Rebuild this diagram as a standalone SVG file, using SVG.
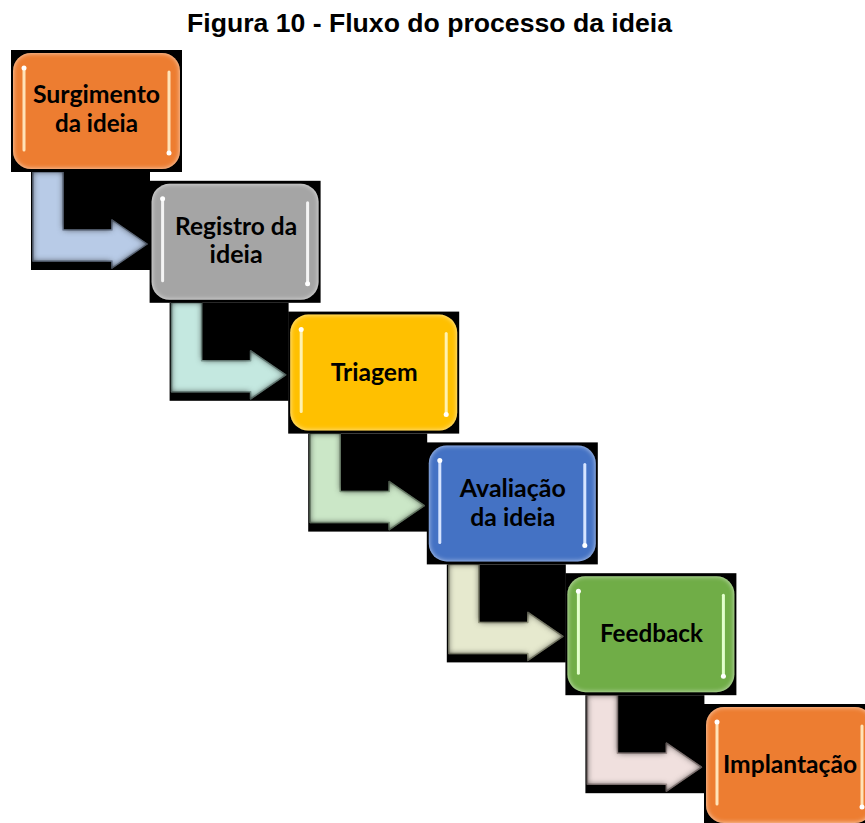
<svg xmlns="http://www.w3.org/2000/svg" width="865" height="823" viewBox="0 0 865 823">
<defs>
<style>
.bg{fill:#000}
.title{font-family:"Liberation Sans",Arial,sans-serif;font-weight:bold;font-size:26.5px;fill:#000}
.lbl{font-family:Lato,"Open Sans",sans-serif;font-weight:bold;font-size:24.5px;fill:#000;text-anchor:middle}
.hl{stroke-width:3;stroke-linecap:round;fill:none}
.arr{stroke-width:1.5;stroke-linejoin:round}
</style>
<filter id="bev" x="-10%" y="-10%" width="120%" height="120%" color-interpolation-filters="sRGB">
<feGaussianBlur in="SourceAlpha" stdDeviation="3" result="b"/>
<feComposite in="SourceAlpha" in2="b" operator="out" result="edge"/>
<feFlood flood-color="#1a1a1a" flood-opacity="0.8" result="fl"/>
<feComposite in="fl" in2="edge" operator="in" result="shade"/>
<feMerge><feMergeNode in="SourceGraphic"/><feMergeNode in="shade"/></feMerge>
</filter>
<filter id="glow" x="-10%" y="-10%" width="120%" height="120%" color-interpolation-filters="sRGB">
<feGaussianBlur in="SourceAlpha" stdDeviation="2.5" result="b"/>
<feComposite in="SourceAlpha" in2="b" operator="out" result="edge"/>
<feFlood flood-color="#ffffff" flood-opacity="0.7" result="fl"/>
<feComposite in="fl" in2="edge" operator="in" result="shade"/>
<feMerge><feMergeNode in="SourceGraphic"/><feMergeNode in="shade"/></feMerge>
</filter>
<filter id="soft" x="-50%" y="-10%" width="200%" height="120%">
<feGaussianBlur stdDeviation="0.6"/>
</filter>
</defs>

<text class="title" x="429.5" y="32" text-anchor="middle" textLength="485" lengthAdjust="spacingAndGlyphs">Figura 10 - Fluxo do processo da ideia</text>

<g id="connectors">
<g transform="translate(31,172)"><rect class="bg" x="0" y="0" width="119" height="98"/><polygon class="arr" filter="url(#bev)" points="2,0 32,0 32,58 81,58 81,48 116,72 81,96 81,89 2,89" fill="#B8CBE7" stroke="#7F90AA"/></g>
<g transform="translate(169.6,302.8)"><rect class="bg" x="0" y="0" width="119" height="98"/><polygon class="arr" filter="url(#bev)" points="2,0 32,0 32,58 81,58 81,48 116,72 81,96 81,89 2,89" fill="#C4E8E0" stroke="#88A8A0"/></g>
<g transform="translate(308.2,433.6)"><rect class="bg" x="0" y="0" width="119" height="98"/><polygon class="arr" filter="url(#bev)" points="2,0 32,0 32,58 81,58 81,48 116,72 81,96 81,89 2,89" fill="#CBE7C7" stroke="#8CA88A"/></g>
<g transform="translate(446.8,564.4)"><rect class="bg" x="0" y="0" width="119" height="98"/><polygon class="arr" filter="url(#bev)" points="2,0 32,0 32,58 81,58 81,48 116,72 81,96 81,89 2,89" fill="#E6E9CE" stroke="#A5A88C"/></g>
<g transform="translate(585.4,695.2)"><rect class="bg" x="0" y="0" width="119" height="98"/><polygon class="arr" filter="url(#bev)" points="2,0 32,0 32,58 81,58 81,48 116,72 81,96 81,89 2,89" fill="#F0E0DE" stroke="#B09E9C"/></g>
</g>

<g id="node1" transform="translate(13,53)">
<rect class="bg" x="-2" y="-3" width="171" height="122"/>
<rect filter="url(#glow)" x="0" y="0" width="167" height="116" rx="18" fill="#ED7D31"/>
<g filter="url(#soft)"><line class="hl" x1="11" y1="15" x2="11" y2="97" stroke="#FFE3B8"/><line class="hl" x1="156" y1="19" x2="156" y2="100" stroke="#FFE3B8"/></g>
<circle cx="11" cy="15" r="2.5" fill="#fff"/><circle cx="156" cy="100" r="2.5" fill="#fff"/>
<text class="lbl" x="83.5" y="50" textLength="127" lengthAdjust="spacingAndGlyphs">Surgimento</text>
<text class="lbl" x="83.5" y="79" textLength="83" lengthAdjust="spacingAndGlyphs">da ideia</text>
</g>

<g id="node2" transform="translate(151.6,183.8)">
<rect class="bg" x="-2" y="-3" width="171" height="122"/>
<rect filter="url(#glow)" x="0" y="0" width="167" height="116" rx="18" fill="#A5A5A5"/>
<g filter="url(#soft)"><line class="hl" x1="11" y1="15" x2="11" y2="97" stroke="#F4F4F4"/><line class="hl" x1="156" y1="19" x2="156" y2="100" stroke="#F4F4F4"/></g>
<circle cx="11" cy="15" r="2.5" fill="#fff"/><circle cx="156" cy="100" r="2.5" fill="#fff"/>
<text class="lbl" x="84.5" y="51" textLength="122" lengthAdjust="spacingAndGlyphs">Registro da</text>
<text class="lbl" x="84.5" y="79" textLength="53" lengthAdjust="spacingAndGlyphs">ideia</text>
</g>

<g id="node3" transform="translate(290.2,314.6)">
<rect class="bg" x="-2" y="-3" width="171" height="122"/>
<rect filter="url(#glow)" x="0" y="0" width="167" height="116" rx="18" fill="#FFC000"/>
<g filter="url(#soft)"><line class="hl" x1="11" y1="15" x2="11" y2="97" stroke="#FFF2B0"/><line class="hl" x1="156" y1="19" x2="156" y2="100" stroke="#FFF2B0"/></g>
<circle cx="11" cy="15" r="2.5" fill="#fff"/><circle cx="156" cy="100" r="2.5" fill="#fff"/>
<text class="lbl" x="84" y="66" textLength="87" lengthAdjust="spacingAndGlyphs">Triagem</text>
</g>

<g id="node4" transform="translate(428.8,445.4)">
<rect class="bg" x="-2" y="-3" width="171" height="122"/>
<rect filter="url(#glow)" x="0" y="0" width="167" height="116" rx="18" fill="#4472C4"/>
<g filter="url(#soft)"><line class="hl" x1="11" y1="15" x2="11" y2="97" stroke="#D6E4FF"/><line class="hl" x1="156" y1="19" x2="156" y2="100" stroke="#D6E4FF"/></g>
<circle cx="11" cy="15" r="2.5" fill="#fff"/><circle cx="156" cy="100" r="2.5" fill="#fff"/>
<text class="lbl" x="84" y="51.5" textLength="106" lengthAdjust="spacingAndGlyphs">Avaliação</text>
<text class="lbl" x="84" y="81" textLength="85" lengthAdjust="spacingAndGlyphs">da ideia</text>
</g>

<g id="node5" transform="translate(567.4,576.2)">
<rect class="bg" x="-2" y="-3" width="171" height="122"/>
<rect filter="url(#glow)" x="0" y="0" width="167" height="116" rx="18" fill="#70AD47"/>
<g filter="url(#soft)"><line class="hl" x1="11" y1="15" x2="11" y2="97" stroke="#E2FFCC"/><line class="hl" x1="156" y1="19" x2="156" y2="100" stroke="#E2FFCC"/></g>
<circle cx="11" cy="15" r="2.5" fill="#fff"/><circle cx="156" cy="100" r="2.5" fill="#fff"/>
<text class="lbl" x="84" y="66" textLength="103" lengthAdjust="spacingAndGlyphs">Feedback</text>
</g>

<g id="node6" transform="translate(706,707)">
<rect class="bg" x="-2" y="-3" width="171" height="122"/>
<rect filter="url(#glow)" x="0" y="0" width="167" height="116" rx="18" fill="#ED7D31"/>
<g filter="url(#soft)"><line class="hl" x1="11" y1="15" x2="11" y2="97" stroke="#FFE3B8"/><line class="hl" x1="156" y1="19" x2="156" y2="100" stroke="#FFE3B8"/></g>
<circle cx="11" cy="15" r="2.5" fill="#fff"/><circle cx="156" cy="100" r="2.5" fill="#fff"/>
<text class="lbl" x="84" y="66" textLength="134" lengthAdjust="spacingAndGlyphs">Implantação</text>
</g>
</svg>
